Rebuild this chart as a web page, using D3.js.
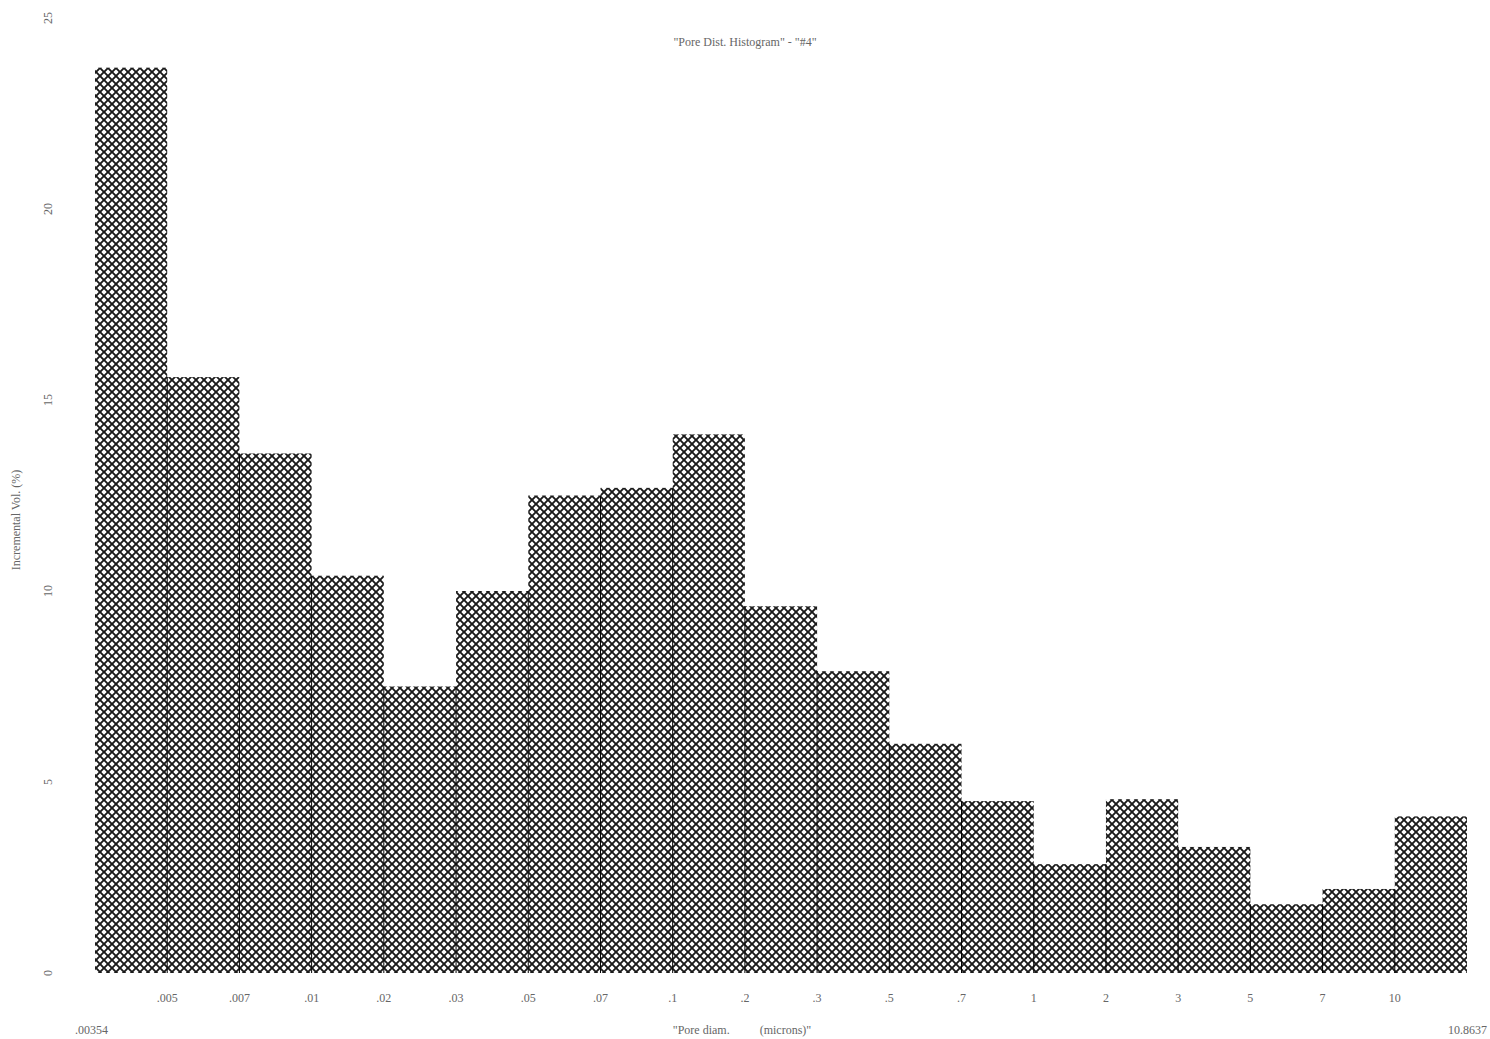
<!DOCTYPE html>
<html>
<head>
<meta charset="utf-8">
<script src="https://cdn.jsdelivr.net/npm/d3@7"></script>
<style>
  body { margin: 0; background: #fff; }
  text { font-family: "Liberation Serif", "Times New Roman", serif; fill: #666; white-space: pre; }
</style>
</head>
<body>
<div id="chart"></div>
<script>
// bar heights (percent per bin)
const values = [23.7, 15.6, 13.6, 10.4, 7.5, 10.0, 12.5, 12.7, 14.1, 9.6, 7.9, 6.0, 4.5, 2.85, 4.55, 3.3, 1.8, 2.2, 4.1];
// bin edge labels (inner edges)
const edgeLabels = ['.005', '.007', '.01', '.02', '.03', '.05', '.07', '.1', '.2', '.3', '.5', '.7', '1', '2', '3', '5', '7', '10'];
const rangeLabels = ['.00354', '10.8637'];
const yTicks = [0, 5, 10, 15, 20, 25];

const W = 1490, H = 1039;
const margin = {left: 95, right: 23, top: 18, bottom: 66};

const svg = d3.select('#chart').append('svg').attr('width', W).attr('height', H);

// cross hatch fill
const defs = svg.append('defs');
const pat = defs.append('pattern').attr('id', 'hatch')
  .attr('patternUnits', 'userSpaceOnUse').attr('width', 8).attr('height', 8);
pat.append('rect').attr('width', 8).attr('height', 8).attr('fill', '#fff');
pat.append('path').attr('d', 'M-2,2 L2,-2 M0,8 L8,0 M6,10 L10,6').attr('stroke', '#1a1a1a').attr('stroke-width', 1.9);
pat.append('path').attr('d', 'M-2,6 L2,10 M0,0 L8,8 M6,-2 L10,2').attr('stroke', '#1a1a1a').attr('stroke-width', 1.9);

const x = d3.scaleLinear().domain([0, values.length]).range([margin.left, W - margin.right]);
const y = d3.scaleLinear().domain([0, 25]).range([H - margin.bottom, margin.top]);

svg.selectAll('rect.bar').data(values).enter().append('rect')
  .attr('class', 'bar')
  .attr('x', (d, i) => x(i))
  .attr('width', (d, i) => x(i + 1) - x(i))
  .attr('y', d => y(d))
  .attr('height', d => y(0) - y(d))
  .attr('fill', 'url(#hatch)');

// darker bin separators
svg.selectAll('line.sep').data(values.slice(1)).enter().append('line')
  .attr('class', 'sep')
  .attr('x1', (d, i) => x(i + 1)).attr('x2', (d, i) => x(i + 1))
  .attr('y1', (d, i) => y(Math.min(values[i], values[i + 1])))
  .attr('y2', y(0))
  .attr('stroke', '#000').attr('stroke-width', 1);

// y ticks, rotated
svg.selectAll('text.ytick').data(yTicks).enter().append('text')
  .attr('class', 'ytick')
  .attr('transform', d => `translate(52,${y(d)}) rotate(-90)`)
  .attr('text-anchor', 'middle')
  .attr('font-size', 12)
  .text(d => d);

// x tick labels at bin edges
svg.selectAll('text.xtick').data(edgeLabels).enter().append('text')
  .attr('class', 'xtick')
  .attr('x', (d, i) => x(i + 1))
  .attr('y', 1002)
  .attr('text-anchor', 'middle')
  .attr('font-size', 12)
  .text(d => d);

svg.append('text').attr('x', 75).attr('y', 1034).attr('font-size', 12).text(rangeLabels[0]);
svg.append('text').attr('x', 1487).attr('y', 1034).attr('text-anchor', 'end').attr('font-size', 12).text(rangeLabels[1]);

svg.append('text').attr('x', 745).attr('y', 46).attr('text-anchor', 'middle').attr('font-size', 12)
  .text('"Pore Dist. Histogram" - "#4"');
svg.append('text').attr('x', 742).attr('y', 1034).attr('text-anchor', 'middle').attr('font-size', 12)
  .text('"Pore diam.          (microns)"');
svg.append('text').attr('transform', 'translate(20,520) rotate(-90)').attr('text-anchor', 'middle').attr('font-size', 12)
  .text('Incremental Vol. (%)');
</script>
</body>
</html>
